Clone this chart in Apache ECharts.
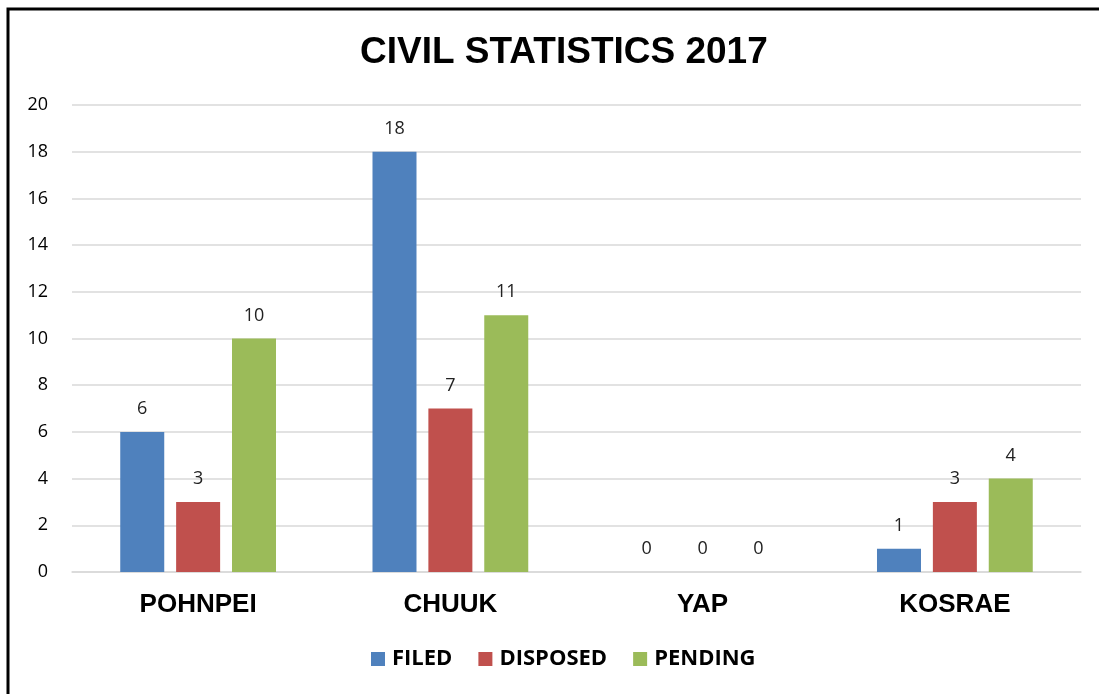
<!DOCTYPE html>
<html>
<head>
    <meta charset="utf-8">
    <script src="https://cdn.jsdelivr.net/npm/echarts@6/dist/echarts.min.js"></script>
    <style>
        body { margin: 0; background: #fff; }
    </style>
</head>
<body>
    <div id="main" style="width: 1099px;height:694px;"></div>
    <script type="text/javascript">
        var categories = ['POHNPEI', 'CHUUK', 'YAP', 'KOSRAE'];
        var filed = [6, 18, 0, 1];
        var disposed = [3, 7, 0, 3];
        var pending = [10, 11, 0, 4];

        var myChart = echarts.init(document.getElementById('main'));

        var labelStyle = {
            show: true,
            position: 'top',
            distance: 14,
            fontFamily: 'Open Sans',
            fontSize: 18,
            color: '#222'
        };

        function barSeries(name, data, color) {
            return {
                name: name,
                type: 'bar',
                data: data,
                barWidth: 44,
                barGap: '27%',
                itemStyle: { color: color },
                label: labelStyle
            };
        }

        var option = {
            animation: false,
            color: ['#4F81BD', '#C0504D', '#9BBB59'],
            title: {
                text: 'CIVIL STATISTICS 2017',
                left: 355,
                top: 29,
                textStyle: { fontFamily: 'Liberation Sans', fontWeight: 'bold', fontSize: 37, color: '#000' }
            },
            graphic: [{
                type: 'rect',
                shape: { x: 8, y: 9, width: 1110, height: 720 },
                style: { fill: null, stroke: '#000', lineWidth: 3 }
            }],
            legend: {
                bottom: 19,
                left: 366,
                itemWidth: 14,
                itemHeight: 14,
                itemGap: 26,
                icon: 'rect',
                textStyle: { fontFamily: 'Open Sans', fontWeight: 'bold', fontSize: 22, color: '#000', padding: [0, 0, 0, 2] },
                data: ['FILED', 'DISPOSED', 'PENDING']
            },
            grid: { left: 72, right: 18, top: 105, bottom: 122 },
            xAxis: {
                type: 'category',
                data: categories,
                axisTick: { show: false },
                axisLine: { lineStyle: { color: '#d9d9d9', width: 1.5 } },
                axisLabel: { margin: 20, fontFamily: 'Liberation Sans', fontWeight: 'bold', fontSize: 26, color: '#000' }
            },
            yAxis: {
                type: 'value',
                min: 0,
                max: 20,
                interval: 2,
                axisLine: { show: false },
                axisTick: { show: false },
                splitLine: { lineStyle: { color: '#d9d9d9', width: 1.5 } },
                axisLabel: { margin: 24, fontFamily: 'Open Sans', fontSize: 18, color: '#000' }
            },
            series: [
                barSeries('FILED', filed, '#4F81BD'),
                barSeries('DISPOSED', disposed, '#C0504D'),
                barSeries('PENDING', pending, '#9BBB59')
            ]
        };
        myChart.setOption(option);
    </script>
</body>
</html>
